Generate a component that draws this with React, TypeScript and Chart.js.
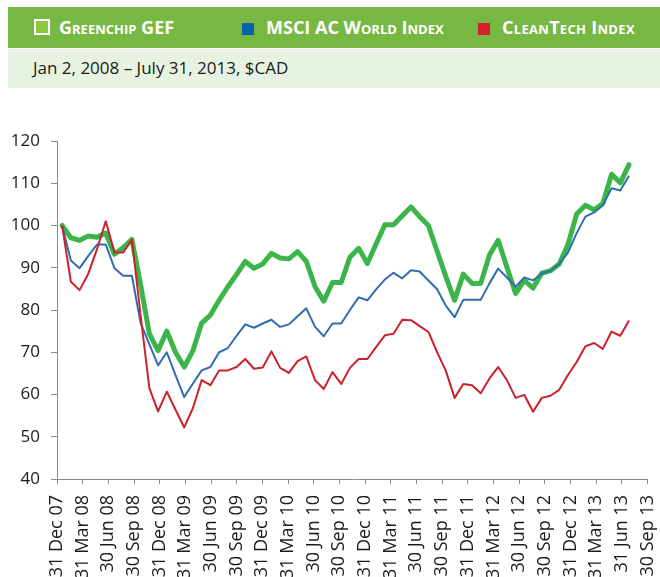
import { useEffect, useRef } from "react";
import { Chart, registerables } from "chart.js";

Chart.register(...registerables);

// Quarter-end tick labels (x axis, every 3 months from 31 Dec 2007)
const tickLabels = [
  "31 Dec 07", "31 Mar 08", "30 Jun 08", "30 Sep 08",
  "31 Dec 08", "31 Mar 09", "30 Jun 09", "30 Sep 09",
  "31 Dec 09", "31 Mar 10", "30 Jun 10", "30 Sep 10",
  "31 Dec 10", "31 Mar 11", "30 Jun 11", "30 Sep 11",
  "31 Dec 11", "31 Mar 12", "30 Jun 12", "30 Sep 12",
  "31 Dec 12", "31 Mar 13", "31 Jun 13", "30 Sep 13",
];

// Series values (indexed, start = 100)
const greenchip = [
  100, 97.1, 96.5, 97.5, 97.2, 98.2, 93.2, 94.8, 96.7, 85.9,
  74.4, 70.4, 75.0, 70.0, 66.5, 70.4, 76.9, 78.8, 82.3, 85.5,
  88.4, 91.5, 89.9, 90.9, 93.4, 92.3, 92.1, 93.8, 91.5, 85.5,
  82.1, 86.5, 86.5, 92.5, 94.6, 91.0, 95.6, 100.2, 100.2, 102.3,
  104.4, 102.1, 100.0, 93.9, 87.9, 82.3, 88.5, 86.3, 86.3, 93.0,
  96.5, 90.1, 83.9, 87.0, 85.2, 88.7, 89.3, 90.9, 95.5, 102.7,
  104.8, 103.7, 105.2, 112.1, 110.1, 114.4,
];

const msci = [
  100, 91.7, 89.9, 92.8, 95.5, 95.5, 89.9, 88.1, 88.1, 76.9,
  71.9, 66.9, 70.0, 64.6, 59.4, 62.6, 65.7, 66.5, 70.0, 71.0,
  73.9, 76.6, 75.8, 76.8, 77.7, 76.0, 76.6, 78.5, 80.4, 76.0,
  73.8, 76.8, 76.8, 80.0, 83.0, 82.3, 84.9, 87.2, 88.8, 87.5,
  89.4, 89.1, 87.0, 84.9, 81.0, 78.3, 82.4, 82.4, 82.4, 86.3,
  89.8, 87.7, 85.5, 87.7, 87.0, 88.7, 89.3, 90.9, 93.6, 98.2,
  102.1, 103.1, 104.8, 108.8, 108.3, 111.8,
];

const cleantech = [
  100, 86.7, 84.7, 88.6, 94.4, 101.0, 93.6, 93.6, 96.7, 78.7,
  61.5, 56.0, 60.7, 56.4, 52.2, 56.8, 63.4, 62.2, 65.7, 65.7,
  66.5, 68.4, 66.1, 66.4, 70.2, 66.3, 65.1, 67.9, 69.0, 63.4,
  61.3, 65.3, 62.5, 66.3, 68.4, 68.4, 71.2, 74.0, 74.4, 77.7,
  77.6, 76.2, 74.8, 70.0, 65.6, 59.2, 62.5, 62.2, 60.3, 63.8,
  66.5, 63.4, 59.2, 59.9, 55.9, 59.2, 59.7, 61.1, 64.6, 67.7,
  71.4, 72.2, 70.8, 74.9, 73.9, 77.5,
];

// Observation span, in months after 31 Dec 2007 (first and last observation)
const obsStartMonth = 0.6;
const obsEndMonth = 66.85;
const axisMonths = 69;

const Y_MIN = 40;
const Y_MAX = 120;
const Y_STEP = 10;

const GREEN = "#3bb54a";
const BLUE = "#2f6db1";
const RED = "#cc2129";
const AXIS = "#8a8a8a";

export default function App() {
  const ref = useRef<HTMLCanvasElement>(null);

  useEffect(() => {
    if (!ref.current) return;
    const n = greenchip.length;
    const xs = greenchip.map(
      (_, i) => obsStartMonth + (i * (obsEndMonth - obsStartMonth)) / (n - 1)
    );
    const pts = (arr: number[]) => arr.map((y, i) => ({ x: xs[i], y }));

    const chart = new Chart(ref.current, {
      type: "line",
      data: {
        datasets: [
          {
            label: "CleanTech Index",
            data: pts(cleantech),
            borderColor: RED,
            borderWidth: 2,
            pointRadius: 0,
            borderJoinStyle: "round",
          },
          {
            label: "MSCI AC World Index",
            data: pts(msci),
            borderColor: BLUE,
            borderWidth: 2,
            pointRadius: 0,
            borderJoinStyle: "round",
          },
          {
            label: "Greenchip GEF",
            data: pts(greenchip),
            borderColor: GREEN,
            borderWidth: 5,
            pointRadius: 0,
            borderJoinStyle: "round",
            borderCapStyle: "round",
          },
        ],
      },
      options: {
        animation: false,
        responsive: false,
        maintainAspectRatio: false,
        layout: { padding: { top: 41, right: 26, left: 0, bottom: 0 } },
        plugins: {
          legend: { display: false },
          tooltip: { enabled: false },
        },
        scales: {
          x: {
            type: "linear",
            min: 0,
            max: axisMonths,
            afterFit: (s: any) => {
              s.height = 98;
            },
            ticks: {
              stepSize: 3,
              autoSkip: false,
              maxRotation: 90,
              minRotation: 90,
              padding: 11,
              color: "#1a1a1a",
              font: { family: "'Open Sans', sans-serif", size: 18 },
              callback: (v: any) => tickLabels[Math.round(Number(v) / 3)] ?? "",
            },
            grid: {
              drawOnChartArea: false,
              tickLength: 5,
              color: AXIS,
            },
            border: { color: AXIS, width: 1 },
          },
          y: {
            min: Y_MIN,
            max: Y_MAX,
            afterFit: (s: any) => {
              s.width = 57;
            },
            ticks: {
              stepSize: Y_STEP,
              padding: 11,
              color: "#1a1a1a",
              font: { family: "'Open Sans', sans-serif", size: 17 },
            },
            grid: {
              drawOnChartArea: false,
              tickLength: 6,
              color: AXIS,
            },
            border: { color: AXIS, width: 1 },
          },
        },
      },
    });
    return () => chart.destroy();
  }, []);

  const capsText: React.CSSProperties = {
    position: "absolute",
    top: 17,
    height: 20,
    lineHeight: "20px",
    color: "#ffffff",
    fontFamily: "'Open Sans', sans-serif",
    fontWeight: 700,
    fontSize: 18,
    fontVariant: "small-caps",
    whiteSpace: "nowrap",
  };

  return (
    <div
      style={{
        position: "absolute",
        left: 0,
        top: 0,
        width: 660,
        height: 577,
        overflow: "hidden",
        background: "#ffffff",
      }}
    >
      <div
        style={{
          position: "absolute",
          left: 8,
          top: 7,
          width: 660,
          height: 41,
          background: "#77b843",
        }}
      />
      <div
        style={{
          position: "absolute",
          left: 8,
          top: 49,
          width: 660,
          height: 39,
          background: "#e8f2e1",
        }}
      />
      <div
        style={{
          position: "absolute",
          left: 34,
          top: 19,
          width: 16,
          height: 16,
          boxSizing: "border-box",
          border: "2px solid #ffffff",
          background: "#8dc63f",
        }}
      />
      <div style={{ ...capsText, left: 59 }}>Greenchip GEF</div>
      <div
        style={{
          position: "absolute",
          left: 242,
          top: 23,
          width: 12,
          height: 12,
          background: "#0a62ad",
        }}
      />
      <div style={{ ...capsText, left: 266 }}>MSCI AC World Index</div>
      <div
        style={{
          position: "absolute",
          left: 478,
          top: 23,
          width: 12,
          height: 12,
          background: "#d4202b",
        }}
      />
      <div style={{ ...capsText, left: 502, letterSpacing: 0.3 }}>CleanTech Index</div>
      <div
        style={{
          position: "absolute",
          left: 33,
          top: 59,
          height: 17,
          lineHeight: "17px",
          color: "#1a1a1a",
          fontFamily: "'Open Sans', sans-serif",
          fontSize: 17,
          whiteSpace: "nowrap",
        }}
      >
        Jan 2, 2008 – July 31, 2013, $CAD
      </div>
      <canvas
        ref={ref}
        width={680}
        height={477}
        style={{
          position: "absolute",
          left: 0,
          top: 100,
          width: 680,
          height: 477,
        }}
      />
    </div>
  );
}
